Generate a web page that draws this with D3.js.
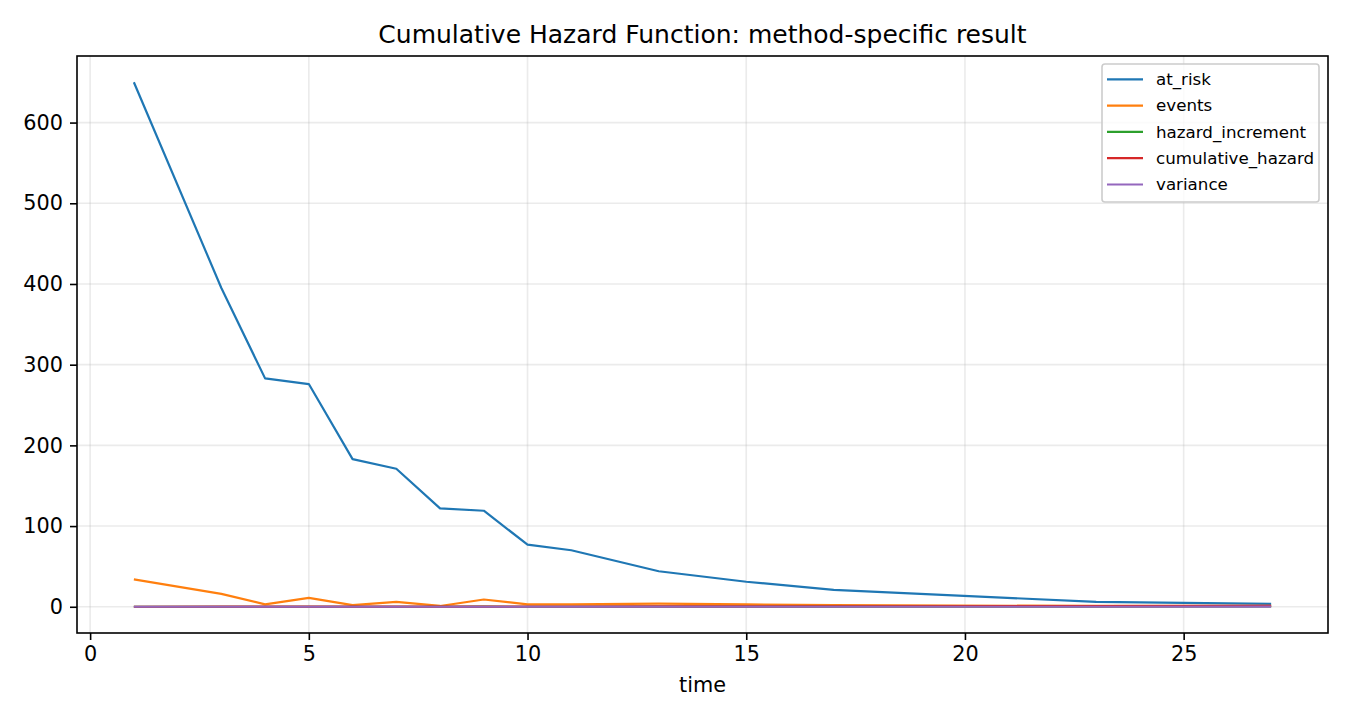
<!DOCTYPE html>
<html>
<head>
<meta charset="utf-8">
<script src="https://cdn.jsdelivr.net/npm/d3@7"></script>
<style>
  body { margin: 0; background: #fff; }
  text { font-family: "DejaVu Sans", sans-serif; fill: #000; }
</style>
</head>
<body>
<svg id="chart" width="1350" height="720"></svg>
<script>
// values
const times = [1, 3, 4, 5, 6, 7, 8, 9, 10, 11, 13, 15, 17, 23, 27];
const atRisk = [650, 395, 283, 276, 183, 171, 122, 119, 77, 70, 44, 31, 21, 6, 3.5];
const events = [34, 16, 3, 11, 2, 6, 1, 9, 3, 3, 4, 3, 2, 1, 1];
const hazardIncrement = [0.052, 0.041, 0.011, 0.040, 0.011, 0.035, 0.008, 0.076, 0.039, 0.043, 0.091, 0.097, 0.095, 0.167, 0.333];
const cumulativeHazard = [0.052, 0.093, 0.103, 0.143, 0.154, 0.189, 0.197, 0.273, 0.312, 0.355, 0.446, 0.543, 0.638, 0.805, 1.138];
const variance = [0.0001, 0.0002, 0.0002, 0.0003, 0.0004, 0.0006, 0.0006, 0.0013, 0.0018, 0.0024, 0.0045, 0.0076, 0.0121, 0.0399, 0.151];
const xTicks = [0, 5, 10, 15, 20, 25];
const yTicks = [0, 100, 200, 300, 400, 500, 600];

const series = [
  { name: "at_risk", values: atRisk, color: "#1f77b4" },
  { name: "events", values: events, color: "#ff7f0e" },
  { name: "hazard_increment", values: hazardIncrement, color: "#2ca02c" },
  { name: "cumulative_hazard", values: cumulativeHazard, color: "#d62728" },
  { name: "variance", values: variance, color: "#9467bd" }
];

const svg = d3.select("#chart");
const plot = { left: 77, right: 1328, top: 56, bottom: 633 };

// matplotlib style 5% margins
const xMin = d3.min(times), xMax = d3.max(times);
const xPad = (xMax - xMin) * 0.05;
const x = d3.scaleLinear().domain([xMin - xPad, xMax + xPad]).range([plot.left, plot.right]);

const yMax = d3.max(series, s => d3.max(s.values));
const yPad = yMax * 0.05;
const y = d3.scaleLinear().domain([0 - yPad, yMax + yPad]).range([plot.bottom, plot.top]);

// grid
svg.append("g")
  .selectAll("line")
  .data(xTicks)
  .join("line")
  .attr("x1", d => x(d)).attr("x2", d => x(d))
  .attr("y1", plot.top).attr("y2", plot.bottom)
  .attr("stroke", "#b0b0b0").attr("stroke-opacity", 0.25).attr("stroke-width", 1.6);

svg.append("g")
  .selectAll("line")
  .data(yTicks)
  .join("line")
  .attr("x1", plot.left).attr("x2", plot.right)
  .attr("y1", d => y(d)).attr("y2", d => y(d))
  .attr("stroke", "#b0b0b0").attr("stroke-opacity", 0.25).attr("stroke-width", 1.6);

// lines
const line = d3.line().x((d, i) => x(times[i])).y(d => y(d));
svg.append("g")
  .selectAll("path")
  .data(series)
  .join("path")
  .attr("fill", "none")
  .attr("stroke", d => d.color)
  .attr("stroke-width", 2.2)
  .attr("stroke-linejoin", "round")
  .attr("d", d => line(d.values));

// axes
const xAxis = svg.append("g")
  .attr("transform", `translate(0,${plot.bottom})`)
  .call(d3.axisBottom(x).tickValues(xTicks).tickSize(7).tickPadding(6).tickFormat(d3.format("d")));
const yAxis = svg.append("g")
  .attr("transform", `translate(${plot.left},0)`)
  .call(d3.axisLeft(y).tickValues(yTicks).tickSize(7).tickPadding(7).tickFormat(d3.format("d")));

[xAxis, yAxis].forEach(a => {
  a.select(".domain").remove();
  a.selectAll(".tick line").attr("stroke", "#000").attr("stroke-width", 1.6);
  a.selectAll(".tick text").attr("font-size", 20.8).attr("font-family", "DejaVu Sans").attr("fill", "#000");
});

// frame
svg.append("rect")
  .attr("x", plot.left).attr("y", plot.top)
  .attr("width", plot.right - plot.left).attr("height", plot.bottom - plot.top)
  .attr("fill", "none").attr("stroke", "#000").attr("stroke-width", 1.6);

// title and label
svg.append("text")
  .attr("x", (plot.left + plot.right) / 2).attr("y", 43)
  .attr("text-anchor", "middle").attr("font-size", 25)
  .text("Cumulative Hazard Function: method-specific result");

svg.append("text")
  .attr("x", (plot.left + plot.right) / 2).attr("y", 692)
  .attr("text-anchor", "middle").attr("font-size", 20.8)
  .text("time");

// legend
const legend = svg.append("g");
legend.append("rect")
  .attr("x", 1102).attr("y", 64)
  .attr("width", 217).attr("height", 138)
  .attr("rx", 3)
  .attr("fill", "#fff").attr("fill-opacity", 0.8)
  .attr("stroke", "#ccc").attr("stroke-width", 1.6);

const item = legend.selectAll("g")
  .data(series)
  .join("g")
  .attr("transform", (d, i) => `translate(0,${79.3 + i * 26.3})`);
item.append("line")
  .attr("x1", 1107).attr("x2", 1143)
  .attr("stroke", d => d.color).attr("stroke-width", 2.2);
item.append("text")
  .attr("x", 1156).attr("dy", "0.35em")
  .attr("font-size", 16.7)
  .text(d => d.name);
</script>
</body>
</html>
